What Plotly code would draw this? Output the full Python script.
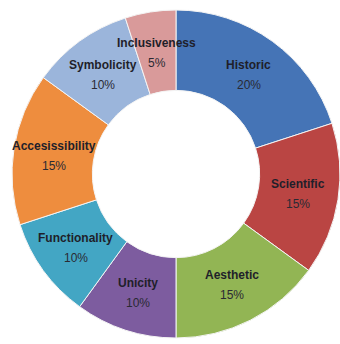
import math
import plotly.graph_objects as go

labels = ["Historic", "Scientific", "Aesthetic", "Unicity", "Functionality",
          "Accessibility", "Symbolicity", "Inclusiveness"]
display_labels = ["Historic", "Scientific", "Aesthetic", "Unicity", "Functionality",
                  "Accesissibility", "Symbolicity", "Inclusiveness"]
values = [20, 15, 15, 10, 10, 15, 10, 5]
colors = ["#4574B6", "#BA4543", "#92B554", "#7D5C9F", "#43A6C4",
          "#EE8D3E", "#9BB5DB", "#D99A9A"]

W, H = 340, 344
# donut placement (pixels)
left_px, right_px, top_px, bottom_px = 12, 340, 8, 340
dom_x = [left_px / W, right_px / W]
dom_y = [1 - bottom_px / H, 1 - top_px / H]
cx = (left_px + right_px) / 2
cy = (top_px + bottom_px) / 2
R = min(right_px - left_px, bottom_px - top_px) / 2
hole = 0.51
r_text = R * (1 + hole) / 2

fig = go.Figure(go.Pie(
    labels=labels, values=values, hole=hole, sort=False, direction="clockwise",
    rotation=0, marker=dict(colors=colors, line=dict(color="#f4f4f4", width=1)),
    textinfo="none", hoverinfo="label+percent", showlegend=False,
    domain=dict(x=dom_x, y=dom_y),
))

total = sum(values)
cum = 0
annotations = []
for lab, v in zip(display_labels, values):
    mid = (cum + v / 2) / total * 2 * math.pi
    cum += v
    px = cx + r_text * math.sin(mid)
    py = cy - r_text * math.cos(mid)
    annotations.append(dict(x=px / W, y=1 - (py - 9) / H, xref="paper", yref="paper",
                            xanchor="center", yanchor="middle",
                            text="<b>%s</b>" % lab, showarrow=False,
                            font=dict(family="Liberation Sans, Arial", size=12, color="#1f1f2a")))
    annotations.append(dict(x=px / W, y=1 - (py + 11) / H, xref="paper", yref="paper",
                            xanchor="center", yanchor="middle",
                            text="%d%%" % v, showarrow=False,
                            font=dict(family="Liberation Sans, Arial", size=12, color="#2a2a33")))

fig.update_layout(width=W, height=H, margin=dict(l=0, r=0, t=0, b=0),
                  paper_bgcolor="white", plot_bgcolor="white",
                  annotations=annotations)
fig.write_html("out.html")
